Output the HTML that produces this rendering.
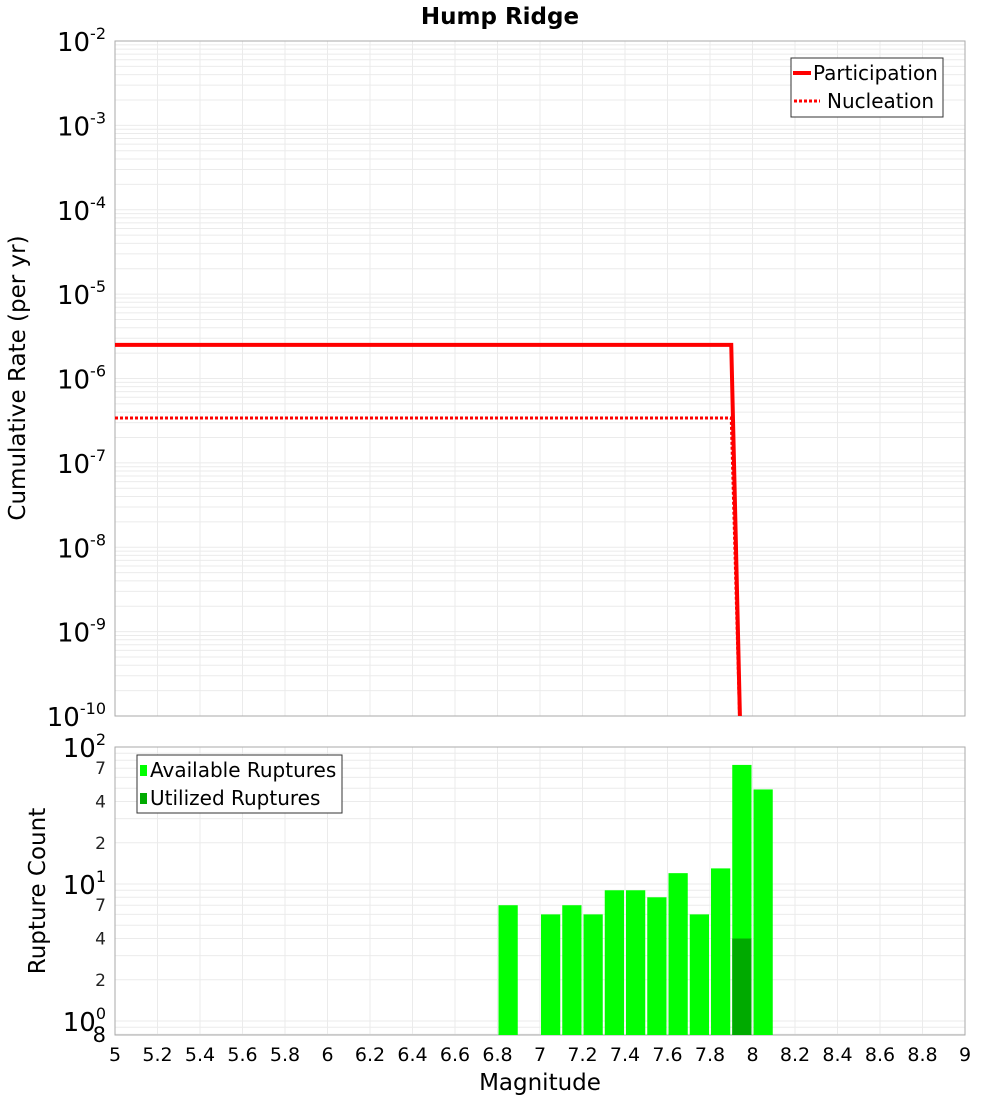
<!DOCTYPE html>
<html><head><meta charset="utf-8"><style>
body{margin:0;background:#fff}
svg text{font-family:"DejaVu Sans","Liberation Sans",sans-serif}
</style></head><body>
<svg id="c" width="1000" height="1100" xmlns="http://www.w3.org/2000/svg"></svg>
<script>
const partMag=[5,7.9,7.95];
const partRate=[2.5e-6,2.5e-6,1e-11];
const nuclMag=[5,7.9,7.95];
const nuclRate=[3.4e-7,3.4e-7,1e-11];
const binMag=[6.8,7.0,7.1,7.2,7.3,7.4,7.5,7.6,7.7,7.8,7.9,8.0];
const availCount=[7,6,7,6,9,9,8,12,6,13,74,49];
const utilMag=[7.9];
const utilCount=[4];
const xTicks=[5,5.2,5.4,5.6,5.8,6,6.2,6.4,6.6,6.8,7,7.2,7.4,7.6,7.8,8,8.2,8.4,8.6,8.8,9];
const topExps=[-2,-3,-4,-5,-6,-7,-8,-9,-10];
const botMinor=[2,4,7,20,40,70];

const svg=document.getElementById('c');const NS='http://www.w3.org/2000/svg';
function el(t,a,p){const e=document.createElementNS(NS,t);for(const k in a)e.setAttribute(k,a[k]);(p||svg).appendChild(e);return e;}
const L=115,R=965;
const X=m=>L+(m-5)/4*(R-L);
const T0=41,T1=716;
const YT=v=>T0+(-2-Math.log10(v))/8*(T1-T0);
const B0=747,B1=1035;
const YB=v=>1021-Math.log10(v)*137;

let t=el('text',{x:500,y:24,'text-anchor':'middle','font-size':23,'font-weight':'bold'});t.textContent='Hump Ridge';


const gt=el('g',{});
for(let e=-10;e<-2;e++)for(let k=1;k<10;k++){const y=YT(k*Math.pow(10,e));el('line',{x1:L,x2:R,y1:y,y2:y,stroke:'#ebebeb'},gt);}
xTicks.forEach(m=>{el('line',{x1:X(m),x2:X(m),y1:T0,y2:T1,stroke:'#ebebeb'},gt);el('line',{x1:X(m),x2:X(m),y1:B0,y2:B1,stroke:'#ebebeb'},gt);});
for(let e=-1;e<2;e++)for(let k=1;k<10;k++){const y=YB(k*Math.pow(10,e));if(y>=B0&&y<=B1)el('line',{x1:L,x2:R,y1:y,y2:y,stroke:'#ebebeb'},gt);}
el('rect',{x:L,y:T0,width:R-L,height:T1-T0,fill:'none',stroke:'#aaa'});
el('rect',{x:L,y:B0,width:R-L,height:B1-B0,fill:'none',stroke:'#aaa'});

topExps.forEach(e=>{const y=YT(Math.pow(10,e));const tx=el('text',{x:106,y:y+10,'text-anchor':'end','font-size':26});

tx.innerHTML='10<tspan dy="-12" font-size="16">'+e+'</tspan>';});
t=el('text',{x:0,y:0,'font-size':23,'text-anchor':'middle',transform:'translate(25,378) rotate(-90)'});t.textContent='Cumulative Rate (per yr)';


const clip=el('clipPath',{id:'cp'});el('rect',{x:L,y:T0,width:R-L,height:T1-T0},clip);
function line(ms,vs,dash,name){const p=el('polyline',{points:ms.map((m,i)=>X(m)+','+YT(vs[i])).join(' '),fill:'none',stroke:'#f00','stroke-width':dash?3:4,'clip-path':'url(#cp)'});
if(dash)p.setAttribute('stroke-dasharray','3,2');}
line(partMag,partRate,false,'participation-line');
line(nuclMag,nuclRate,true,'nucleation-line');

const lg=el('g',{});
el('rect',{x:791,y:58,width:152,height:59,fill:'#fff',stroke:'#333'},lg);
el('line',{x1:793,x2:811,y1:73,y2:73,stroke:'#f00','stroke-width':4},lg);
el('line',{x1:794,x2:820,y1:101,y2:101,stroke:'#f00','stroke-width':3,'stroke-dasharray':'3,2'},lg);
t=el('text',{x:813,y:80,'font-size':20},lg);t.textContent='Participation';
t=el('text',{x:827,y:108,'font-size':20},lg);t.textContent='Nucleation';

const gb=el('g',{});
binMag.forEach((m,i)=>{const y=YB(availCount[i]);const r=el('rect',{x:X(m)+1,y:y,width:X(m+0.1)-X(m)-2,height:B1-y,fill:'#00ff00'},gb);
});
utilMag.forEach((m,i)=>{const y=YB(utilCount[i]);const r=el('rect',{x:X(m)+1,y:y,width:X(m+0.1)-X(m)-2,height:B1-y,fill:'#00aa00'},gb);
});

[[0,1021],[1,YB(10)],[2,YB(100)]].forEach(([e,y])=>{const tx=el('text',{x:106,y:y+10,'text-anchor':'end','font-size':26});

tx.innerHTML='10<tspan dy="-12" font-size="16">'+e+'</tspan>';});
botMinor.forEach(v=>{const tx=el('text',{x:106,y:YB(v)+6,'text-anchor':'end','font-size':17,fill:'#222'});tx.textContent=String(v).charAt(0);
});
t=el('text',{x:106,y:1042,'text-anchor':'end','font-size':21});t.textContent='8';
t=el('text',{x:0,y:0,'font-size':23,'text-anchor':'middle',transform:'translate(45,891) rotate(-90)'});t.textContent='Rupture Count';


const lb=el('g',{});
el('rect',{x:137,y:755,width:205,height:58,fill:'#fff',stroke:'#333'},lb);
el('rect',{x:140,y:765,width:7,height:11,fill:'#00ff00'},lb);
el('rect',{x:140,y:793,width:7,height:11,fill:'#00aa00'},lb);
t=el('text',{x:150,y:777,'font-size':20},lb);t.textContent='Available Ruptures';
t=el('text',{x:150,y:805,'font-size':20},lb);t.textContent='Utilized Ruptures';

xTicks.forEach(m=>{const tx=el('text',{x:X(m),y:1061,'text-anchor':'middle','font-size':19});tx.textContent=String(m);
});
t=el('text',{x:540,y:1090,'text-anchor':'middle','font-size':23});t.textContent='Magnitude';

</script>
</body></html>
